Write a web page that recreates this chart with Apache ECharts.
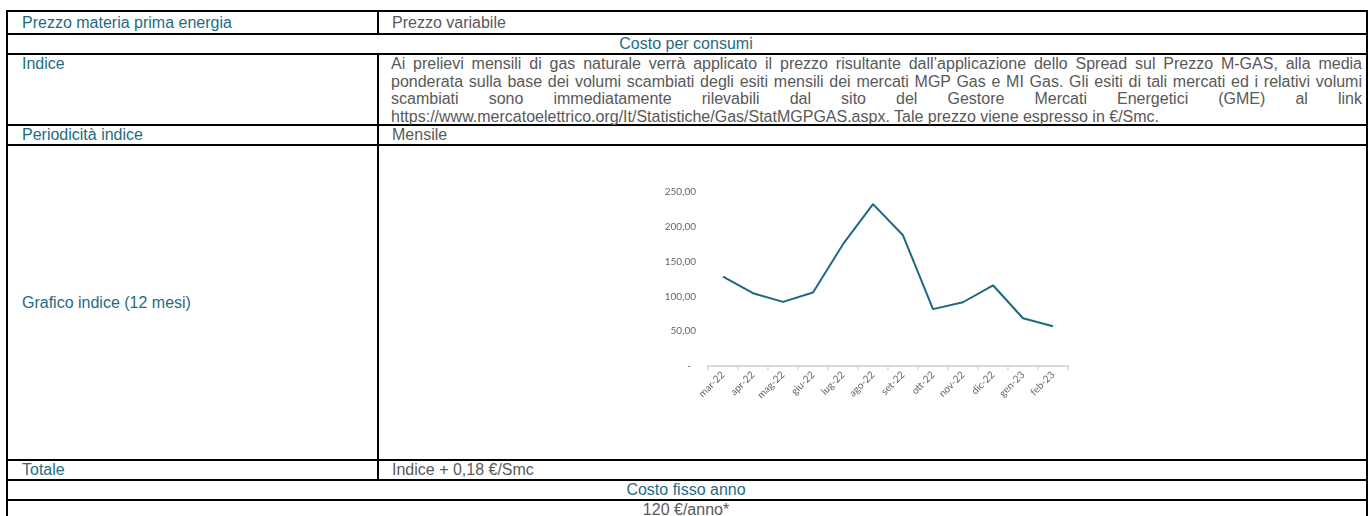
<!DOCTYPE html>
<html>
<head>
<meta charset="utf-8">
<script src="https://cdn.jsdelivr.net/npm/echarts@6/dist/echarts.min.js"></script>
<style>
  html, body { margin:0; padding:0; background:#fff; }
  body { width:1370px; height:516px; position:relative; overflow:hidden;
         font-family:"Liberation Sans", Arial, sans-serif; font-size:16px; }
  .ln { position:absolute; background:#000; }
  .t { position:absolute; white-space:nowrap; line-height:20px; }
  .lab { color:#1f6b82; }
  .val { color:#595959; }
  .para { position:absolute; left:391px; top:55px; width:971px; color:#595959; line-height:17.5px; }
  .para div { white-space:nowrap; text-align:justify; text-align-last:justify; }
  .para div.last { text-align-last:left; }
  #chart { position:absolute; left:0; top:0; width:1370px; height:516px; pointer-events:none; }
</style>
</head>
<body>
<div id="table"></div>
<div id="chart"></div>
<script>
// ---- data ----
const months = ['mar-22','apr-22','mag-22','giu-22','lug-22','ago-22','set-22','ott-22','nov-22','dic-22','gen-23','feb-23'];
const indexValues = [128.5, 104.6, 92.1, 105.5, 175, 232.6, 187.8, 81.7, 91.6, 116, 68.6, 57];
const yTicks = [0, 50, 100, 150, 200, 250];

const rowLabels = ['Prezzo materia prima energia', 'Indice', 'Periodicità indice', 'Grafico indice (12 mesi)', 'Totale'];
const rowValues = ['Prezzo variabile', 'Mensile', 'Indice + 0,18 €/Smc'];
const sectionTitles = ['Costo per consumi', 'Costo fisso anno'];
const fixedCost = '120 €/anno*';
const indiceLines = [
  'Ai prelievi mensili di gas naturale verrà applicato il prezzo risultante dall’applicazione dello Spread sul Prezzo M-GAS, alla media',
  'ponderata sulla base dei volumi scambiati degli esiti mensili dei mercati MGP Gas e MI Gas. Gli esiti di tali mercati ed i relativi volumi',
  'scambiati sono immediatamente rilevabili dal sito del Gestore Mercati Energetici (GME) al link',
  'https://www.mercatoelettrico.org/It/Statistiche/Gas/StatMGPGAS.aspx. Tale prezzo viene espresso in €/Smc.'
];

// ---- table layout ----
const X0 = 6, X1 = 1366, XD = 377;
const Y = [10, 33, 53, 124, 144, 459, 479, 499, 521];
const tbl = document.getElementById('table');
function line(x, y, w, h) {
  const d = document.createElement('div'); d.className = 'ln';
  d.style.left = x + 'px'; d.style.top = y + 'px'; d.style.width = w + 'px'; d.style.height = h + 'px';
  tbl.appendChild(d);
}
function text(str, cls, x, y0, y1, align) {
  const d = document.createElement('div'); d.className = 't ' + cls;
  d.textContent = str;
  d.style.top = ((y0 + y1) / 2 - 10 + 1) + 'px';
  if (align === 'center') { d.style.left = X0 + 'px'; d.style.width = (X1 - X0) + 'px'; d.style.textAlign = 'center'; }
  else d.style.left = x + 'px';
  tbl.appendChild(d);
}
Y.forEach(y => line(X0, y, X1 - X0 + 2, 2));
line(X0, Y[0], 2, Y[8] - Y[0]);
line(X1, Y[0], 2, Y[8] - Y[0]);
// divider only on two-column rows
[[0,1],[2,3],[3,4],[4,5],[5,6]].forEach(([a,b]) => line(XD, Y[a], 2, Y[b] - Y[a] + 2));

const LX = 22, RX = 392;
text(rowLabels[0], 'lab', LX, Y[0], Y[1]);
text(rowValues[0], 'val', RX, Y[0], Y[1]);
text(sectionTitles[0], 'lab', 0, Y[1], Y[2], 'center');
const ind = document.createElement('div'); ind.className = 't lab';
ind.textContent = rowLabels[1]; ind.style.left = LX + 'px'; ind.style.top = '54px'; tbl.appendChild(ind);
const para = document.createElement('div'); para.className = 'para';
indiceLines.forEach((s, i) => { const d = document.createElement('div'); d.textContent = s; if (i === indiceLines.length - 1) d.className = 'last'; para.appendChild(d); });
tbl.appendChild(para);
text(rowLabels[2], 'lab', LX, Y[3], Y[4]);
text(rowValues[1], 'val', RX, Y[3], Y[4]);
text(rowLabels[3], 'lab', LX, Y[4], Y[5]);
text(rowLabels[4], 'lab', LX, Y[5], Y[6]);
text(rowValues[2], 'val', RX, Y[5], Y[6]);
text(sectionTitles[1], 'lab', 0, Y[6], Y[7], 'center');
text(fixedCost, 'val', 0, Y[7], Y[8] - 2, 'center');

// ---- chart ----
const chart = echarts.init(document.getElementById('chart'), null, { renderer: 'canvas' });
chart.setOption({
  backgroundColor: 'transparent',
  animation: false,
  grid: { left: 708, top: 192, width: 360, height: 174, containLabel: false },
  xAxis: {
    type: 'category', data: months, boundaryGap: true,
    axisLine: { lineStyle: { color: '#d9d9d9', width: 2 } },
    axisTick: { show: true, length: 4, lineStyle: { color: '#d9d9d9', width: 1.5 } },
    axisLabel: { interval: 0, rotate: 45, color: '#666666', fontSize: 10, fontFamily: 'Lato', margin: 7 },
    splitLine: { show: false }
  },
  yAxis: {
    type: 'value', min: yTicks[0], max: yTicks[yTicks.length - 1], interval: yTicks[1] - yTicks[0],
    axisLine: { show: false }, axisTick: { show: false }, splitLine: { show: false },
    axisLabel: { color: '#666666', fontSize: 10, fontFamily: 'Lato', margin: 12,
      formatter: v => v === 0 ? '-  ' : v.toFixed(2).replace('.', ',') }
  },
  series: [{
    type: 'line', data: indexValues, symbol: 'none',
    lineStyle: { color: '#1b6a81', width: 2 }
  }]
});
</script>
</body>
</html>
